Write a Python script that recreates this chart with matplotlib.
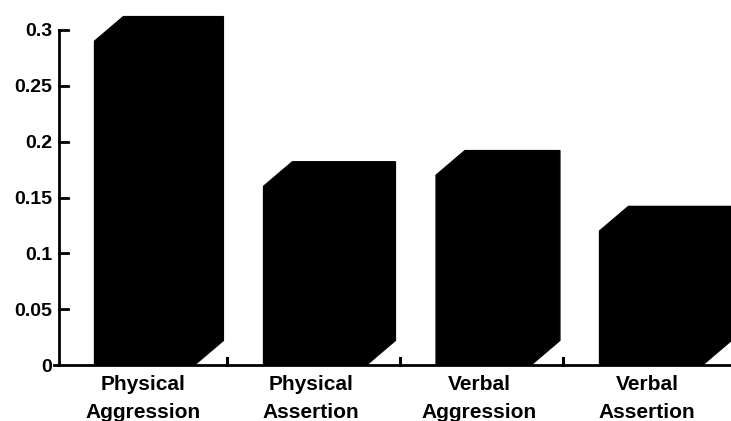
import numpy as np
import matplotlib.pyplot as plt
from matplotlib.patches import Polygon

categories = ['Physical\nAggression', 'Physical\nAssertion', 'Verbal\nAggression', 'Verbal\nAssertion']
values = [0.29, 0.16, 0.17, 0.12]
yticks = [0, 0.05, 0.1, 0.15, 0.2, 0.25, 0.3]
yticklabels = ['0', '0.05', '0.1', '0.15', '0.2', '0.25', '0.3']

plt.rcParams['font.family'] = ['Liberation Sans', 'DejaVu Sans']
plt.rcParams['font.weight'] = 'bold'

fig = plt.figure(figsize=(7.31, 4.21), dpi=100)
ax = fig.add_axes([59 / 731, 1 - 365 / 421, 672 / 731, 335 / 421])

x = np.arange(len(values))
# bars are not quite evenly placed
widths = [0.595, 0.613, 0.565, 0.613]
shift = [0.009, 0.024, 0.027, 0.024]
dividers = [0.5, 1.53, 2.5]
# extrusion of the fake 3d boxes, in data units
dx = 0.172
dy = 0.022

for i, v in enumerate(values):
    left = x[i] + shift[i] - widths[i] / 2
    right = left + widths[i]
    ax.add_patch(Polygon([(left, 0), (left, v), (left + dx, v + dy), (right + dx, v + dy),
                          (right + dx, dy), (right, 0)],
                         closed=True, fc='black', ec='black', lw=1, clip_on=False, zorder=3))

ax.set_xlim(-0.5, 3.5)
ax.set_ylim(0, 0.3)
ax.spines['top'].set_visible(False)
ax.spines['right'].set_visible(False)
ax.spines['left'].set_linewidth(2)
ax.spines['bottom'].set_linewidth(2)
ax.spines['left'].set_bounds(0, 0.3)

ax.set_yticks(yticks)
ax.set_yticklabels(yticklabels, fontsize=14, fontweight='bold')
ax.tick_params(axis='y', direction='out', length=0, pad=5)
# short stubs on the inner side of the value axis
for t in yticks[1:]:
    ax.plot([-0.5, -0.445], [t, t], color='black', lw=2, clip_on=False, zorder=2)
ax.plot([-0.53, -0.5], [0, 0], color='black', lw=2, clip_on=False, zorder=2)

ax.set_xticks(x)
ax.set_xticklabels(categories, fontsize=15, fontweight='bold', linespacing=1.63)
ax.tick_params(axis='x', length=0, pad=7)
for b in dividers:
    ax.plot([b, b], [0, 0.006], color='black', lw=2.2, clip_on=False, zorder=2)

fig.savefig('out.png', dpi=100)
